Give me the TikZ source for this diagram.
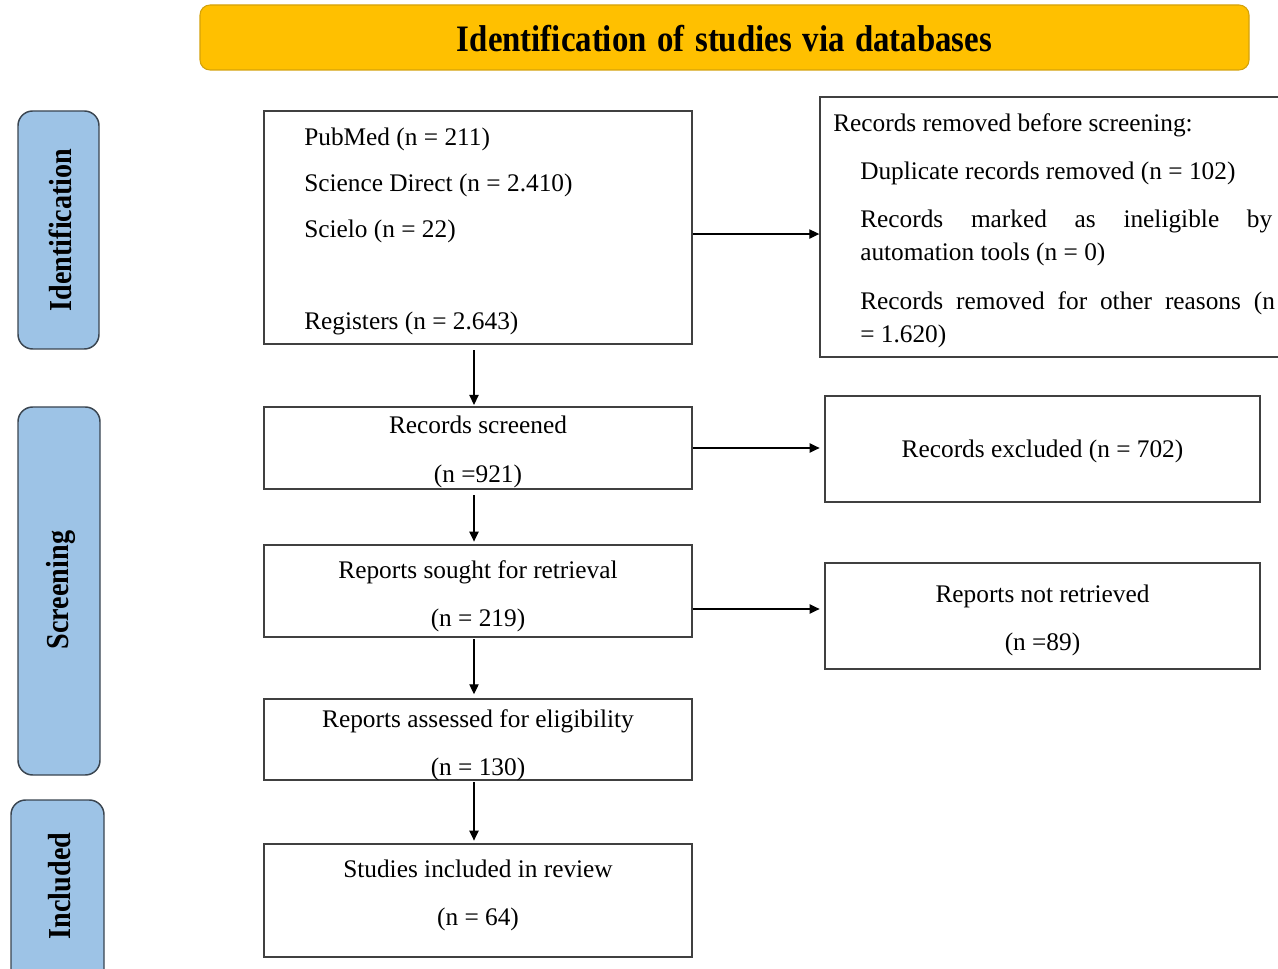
\documentclass[tikz,border=0pt]{standalone}
\usepackage{fontspec}
\setmainfont{Liberation Serif}
\usetikzlibrary{arrows.meta}
\definecolor{gold}{HTML}{FFC000}
\definecolor{goldedge}{HTML}{D4A20A}
\definecolor{phase}{HTML}{9DC3E6}
\definecolor{edge}{HTML}{404040}
\definecolor{phaseedge}{HTML}{3A4550}
\begin{document}
\begin{tikzpicture}[x=0.75pt,y=-0.75pt,
  box/.style={draw=edge, line width=1.1pt, inner sep=0pt},
  phasebox/.style={draw=phaseedge, fill=phase, rounded corners=11pt, line width=1.1pt, inner sep=0pt},
  txt/.style={font=\fontsize{19}{23}\selectfont, inner sep=0pt, anchor=base},
  ltxt/.style={txt, anchor=base west},
  phasetxt/.style={font=\fontsize{24}{28}\selectfont\bfseries, inner sep=0pt, rotate=90},
  arr/.style={-{Triangle[length=7.5pt,width=7pt]}, line width=0.9pt, black},
]
\useasboundingbox (0,0) rectangle (1278,969);

% banner
\node[draw=goldedge, fill=gold, rounded corners=7.5pt, line width=0.8pt,
      minimum width=786.75pt, minimum height=48.75pt, inner sep=0pt] (banner) at (724.5,37.5) {};
\node[font=\fontsize{28}{32}\selectfont\bfseries, inner sep=0pt] (title) at (724.5,39)
  {\scalebox{0.88}[1]{Identification\hspace{2pt} of\hspace{2pt} studies\hspace{2pt} via\hspace{2pt} databases}};

% phase boxes
\node[phasebox, minimum width=60.75pt, minimum height=178.5pt] (pid) at (58.5,230) {};
\node[phasetxt] (pidt) at (60,230) {\scalebox{0.88}[1]{Identification}};
\node[phasebox, minimum width=61.5pt, minimum height=276pt] (psc) at (59,591) {};
\node[phasetxt] (psct) at (61,590) {\scalebox{0.88}[1]{Screening}};
\node[phasebox, minimum width=69.75pt, minimum height=142.5pt] (pin) at (57.5,895) {};
\node[phasetxt] (pint) at (60,886) {\scalebox{0.88}[1]{Included}};

% main column boxes
\node[box, minimum width=321pt, minimum height=174.75pt] (b1) at (478,227.5) {};
\node[ltxt] (t11) at (304,146) {PubMed (n = 211)};
\node[ltxt] (t12) at (304,192) {Science Direct (n = 2.410)};
\node[ltxt] (t13) at (304,238) {Scielo (n = 22)};
\node[ltxt] (t14) at (304,330) {Registers (n = 2.643)};

\node[box, minimum width=321pt, minimum height=61.5pt] (b2) at (478,448) {};
\node[txt] (t21) at (478,434) {Records screened};
\node[txt] (t22) at (478,483) {(n =921)};

\node[box, minimum width=321pt, minimum height=69pt] (b3) at (478,591) {};
\node[txt] (t31) at (478,578) {Reports sought for retrieval};
\node[txt] (t32) at (478,626) {(n = 219)};

\node[box, minimum width=321pt, minimum height=60.75pt] (b4) at (478,739.5) {};
\node[txt] (t41) at (478,727) {Reports assessed for eligibility};
\node[txt] (t42) at (478,775) {(n = 130)};

\node[box, minimum width=321pt, minimum height=84.75pt] (b5) at (478,900.5) {};
\node[txt] (t51) at (478,877) {Studies included in review};
\node[txt] (t52) at (478,925) {(n = 64)};

% right column boxes
\node[box, minimum width=352.5pt, minimum height=195pt] (rem) at (1055,227) {};
\node[ltxt] (r1) at (833,132) {Records removed before screening:};
\node[ltxt] (r2) at (860,180) {Duplicate records removed (n = 102)};
\node[ltxt] (r3) at (860,228) {\makebox[309pt][s]{Records marked as ineligible by}};
\node[ltxt] (r4) at (860,261) {automation tools (n = 0)};
\node[ltxt] (r5) at (860,310) {\makebox[311pt][s]{Records removed for other reasons (n}};
\node[ltxt] (r6) at (860,343) {= 1.620)};

\node[box, minimum width=326.25pt, minimum height=79.5pt] (exc) at (1042.5,449) {};
\node[txt] (e1) at (1042.5,458) {Records excluded (n = 702)};

\node[box, minimum width=326.25pt, minimum height=79.5pt] (nr) at (1042.5,616) {};
\node[txt] (n1) at (1042.5,602) {Reports not retrieved};
\node[txt] (n2) at (1042.5,650) {(n =89)};

% connectors
\path ([yshift=-4.9pt]b1.east) coordinate (s1);
\draw[arr] (s1) -- (s1 -| rem.west);
\draw[arr, shorten >=3.5pt] (b2.east) -- (b2.east -| exc.west);
\path ([yshift=-13.5pt]b3.east) coordinate (s3);
\draw[arr, shorten >=3.5pt] (s3) -- (s3 -| nr.west);

\draw[arr, shorten <=4pt, shorten >=1pt] ([xshift=-3pt]b1.south) -- ([xshift=-3pt]b2.north);
\draw[arr, shorten <=4pt, shorten >=2pt] ([xshift=-3pt]b2.south) -- ([xshift=-3pt]b3.north);
\draw[arr, shorten <=1pt, shorten >=3pt] ([xshift=-3pt]b3.south) -- ([xshift=-3pt]b4.north);
\draw[arr, shorten <=1pt, shorten >=2pt] ([xshift=-3pt]b4.south) -- ([xshift=-3pt]b5.north);
\end{tikzpicture}
\end{document}
